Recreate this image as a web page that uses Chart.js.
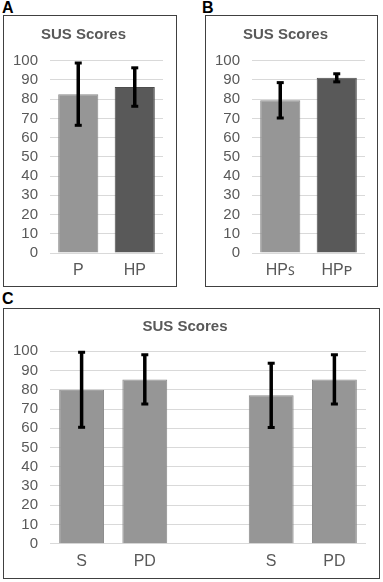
<!DOCTYPE html>
<html lang="en">
  <head>
    <meta charset="UTF-8" />
    <title>SUS Scores</title>
    <script src="https://cdn.jsdelivr.net/npm/chart.js"></script>
    <style>
      body { margin: 0; width: 383px; height: 582px; background: #fff; position: relative; font-family: "Liberation Sans", Arial, sans-serif; }
      .lbl { position: absolute; font-weight: bold; font-size: 16px; line-height: 16px; color: #000; }
      .box { position: absolute; border: 1px solid #404040; }
      .box canvas { display: block; }
    </style>
  </head>
  <body>
    <div class="lbl" style="left: 2px; top: 0px">A</div>
    <div class="box" style="left: 3px; top: 15px"><canvas id="chartA" width="172" height="270"></canvas></div>

    <div class="lbl" style="left: 202px; top: 0px">B</div>
    <div class="box" style="left: 205px; top: 15px"><canvas id="chartB" width="171" height="270"></canvas></div>

    <div class="lbl" style="left: 2px; top: 291px">C</div>
    <div class="box" style="left: 3px; top: 308px"><canvas id="chartC" width="375" height="269"></canvas></div>

    <script>
      // === Data ===
      const labelsA = ["P", "HP"];
      const meansA = [82.6, 86.3];
      const errA = [16.2, 10];

      const labelsB = ["HPꜱ", "HPᴘ"];
      const meansB = [79.4, 91.1];
      const errB = [9.2, 2.1];

      const labelsC = ["S", "PD", "", "S", "PD"];
      const meansC = [80, 85.4, null, 77.1, 85.4];
      const errC = [19.5, 12.8, null, 16.7, 12.8];

      const LIGHT = "#969696";
      const LIGHT_BORDER = "#8a8a8a";
      const DARK = "#595959";
      const DARK_BORDER = "#4d4d4d";
      const TEXT = "#595959";
      const FONT = "'Liberation Sans', Arial, sans-serif";

      // error bars drawn on top of the bars
      const errorBars = {
        id: "errorBars",
        afterDatasetsDraw(chart, args, opts) {
          const ctx = chart.ctx;
          const y = chart.scales.y;
          const meta = chart.getDatasetMeta(0);
          const values = chart.data.datasets[0].data;
          const errs = opts.errors || [];
          ctx.save();
          ctx.fillStyle = "#000";
          ctx.strokeStyle = "#000";
          ctx.lineWidth = 3.5;
          meta.data.forEach((bar, i) => {
            const v = values[i];
            if (v == null || errs[i] == null) return;
            const top = y.getPixelForValue(v + errs[i]);
            const bot = y.getPixelForValue(v - errs[i]);
            ctx.beginPath();
            ctx.moveTo(bar.x, top);
            ctx.lineTo(bar.x, bot);
            ctx.stroke();
            ctx.fillRect(bar.x - 3.5, top - 1.5, 7, 3);
            ctx.fillRect(bar.x - 3.5, bot - 1.5, 7, 3);
          });
          ctx.restore();
        },
      };

      function makeChart(id, labels, means, errs, colors, borders, lay) {
        new Chart(document.getElementById(id), {
          type: "bar",
          data: {
            labels: labels,
            datasets: [
              {
                data: means,
                backgroundColor: colors,
                borderColor: borders,
                borderWidth: 1,
                categoryPercentage: 1,
                barPercentage: 0.71,
              },
            ],
          },
          options: {
            responsive: false,
            animation: false,
            layout: { padding: { left: 0, right: lay.right, top: 0, bottom: 0 } },
            plugins: {
              legend: { display: false },
              tooltip: { enabled: false },
              title: {
                display: true,
                text: "SUS Scores",
                color: TEXT,
                font: { family: FONT, size: 15, weight: "bold" },
                padding: { top: lay.titleTop, bottom: lay.titleBottom },
              },
              errorBars: { errors: errs },
            },
            scales: {
              y: {
                min: 0,
                max: 100,
                ticks: { stepSize: 10, autoSkip: false, color: TEXT, font: { family: FONT, size: 15 }, padding: 12 },
                grid: { color: "#d9d9d9", drawTicks: false },
                border: { display: false },
                afterFit(s) { s.width = 46; },
              },
              x: {
                ticks: { autoSkip: false, maxRotation: 0, color: TEXT, font: { family: FONT, size: 16 }, padding: 8 },
                grid: { display: false, drawTicks: false },
                border: { display: false },
                afterFit(s) { s.height = lay.xHeight; },
              },
            },
          },
          plugins: [errorBars],
        });
      }

      makeChart("chartA", labelsA, meansA, errA, [LIGHT, DARK], [LIGHT_BORDER, DARK_BORDER],
        { right: 13, titleTop: 10, titleBottom: 16.7, xHeight: 33 });
      makeChart("chartB", labelsB, meansB, errB, [LIGHT, DARK], [LIGHT_BORDER, DARK_BORDER],
        { right: 12, titleTop: 10, titleBottom: 16.7, xHeight: 33 });
      makeChart("chartC", labelsC, meansC, errC, LIGHT, LIGHT_BORDER,
        { right: 13, titleTop: 8.7, titleBottom: 15.6, xHeight: 34.3 });
    </script>
  </body>
</html>
